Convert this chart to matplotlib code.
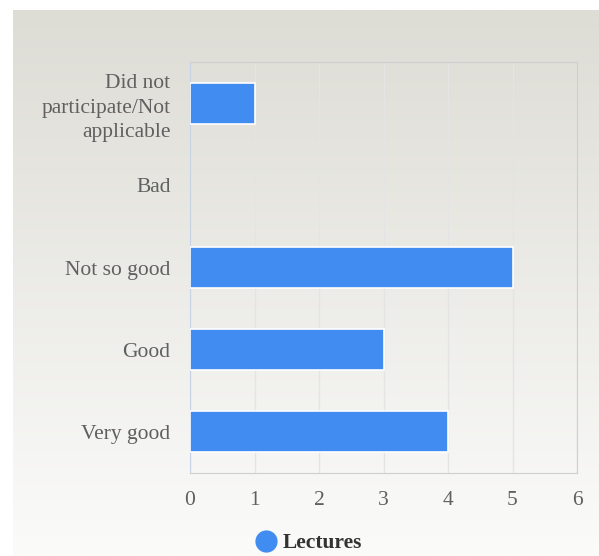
import numpy as np
import matplotlib.pyplot as plt
from matplotlib.lines import Line2D

categories = ['Did not\nparticipate/Not\napplicable', 'Bad', 'Not so good', 'Good', 'Very good']
values = [1, 0, 5, 3, 4]
series_name = 'Lectures'
xticks = [0, 1, 2, 3, 4, 5, 6]

plt.rcParams['font.family'] = ['Liberation Serif', 'DejaVu Serif']

fig = plt.figure(figsize=(5.99, 5.56), dpi=100)
fig.patch.set_facecolor('white')

# fondo con degradado
bg = fig.add_axes([13 / 599, 0, 586 / 599, 546 / 556], zorder=-1)
top = np.array([221, 220, 213]) / 255
bot = np.array([251, 251, 250]) / 255
t = np.linspace(0, 1, 256)[:, None]
grad = top * (1 - t) + bot * t
bg.imshow(grad[:, None, :], aspect='auto', extent=[0, 1, 0, 1])
bg.axis('off')

ax = fig.add_axes([190 / 599, 83 / 556, 387 / 599, 411 / 556])
ax.patch.set_alpha(0)

y = np.arange(len(categories))
lw = [1.2 if v else 0 for v in values]
ax.barh(y, values, height=0.5, color='#418cf0', edgecolor='white', linewidth=lw, zorder=3)
ax.set_ylim(len(categories) - 0.5, -0.5)
ax.set_xlim(0, 6)
ax.set_yticks(y)
ax.set_yticklabels(categories, fontsize=15.5, color='#606060', linespacing=1.38)
ax.set_xticks(xticks)
ax.set_xticklabels([str(v) for v in xticks], fontsize=15.5, color='#606060')
ax.tick_params(axis='x', length=0, pad=13)
ax.tick_params(axis='y', length=0, pad=14)
ax.grid(axis='x', color='#e4e4e4', linewidth=1, zorder=0)
for s in ['top', 'right', 'bottom']:
    ax.spines[s].set_color('#cfcfcf')
ax.spines['left'].set_color('#c8d2e6')

handle = Line2D([], [], marker='o', linestyle='', color='#418cf0', markersize=15)
fig.legend([handle], [series_name], loc='center', bbox_to_anchor=(308.5 / 599, 1 - 543 / 556),
           frameon=False, prop={'weight': 'bold', 'size': 15.5}, handlelength=1.0,
           handletextpad=0.3, labelcolor='#333333')

fig.savefig('out.png', dpi=100)
